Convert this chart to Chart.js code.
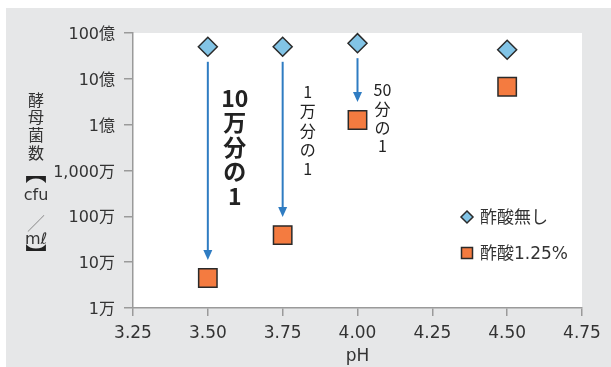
<!DOCTYPE html>
<html>
<head>
<meta charset="utf-8">
<script src="https://cdn.jsdelivr.net/npm/chart.js@4/dist/chart.umd.min.js"></script>
<style>
  html, body { margin: 0; padding: 0; background: #fff; }
  #wrap { width: 611px; height: 367px; }
</style>
</head>
<body>
<div id="wrap"><canvas id="chart" width="611" height="367"></canvas></div>
<script>
// data
const phValues = [3.5, 3.75, 4.0, 4.5];
const noAcid = [5.0e9, 5.0e9, 6.0e9, 4.3e9];      // 酢酸無し
const acid125 = [4.5e4, 3.9e5, 1.26e8, 6.7e8];     // 酢酸1.25%
const seriesNames = ['酢酸無し', '酢酸1.25%'];

const yTickValues = [1e4, 1e5, 1e6, 1e7, 1e8, 1e9, 1e10];
const yTickLabels = ['1万', '10万', '100万', '1,000万', '1億', '10億', '100億'];
const xTickValues = [3.25, 3.5, 3.75, 4.0, 4.25, 4.5, 4.75];
const xTickLabels = ['3.25', '3.50', '3.75', '4.00', '4.25', '4.50', '4.75'];

// arrows go from the 酢酸無し point down to the 酢酸1.25% point at these indexes
const arrowIndex = [0, 1, 2];
const ratioLabels = [
  ['10', '万', '分', 'の', '1'],
  ['1', '万', '分', 'の', '1'],
  ['50', '分', 'の', '1']
];
const yTitleParts = ['酵', '母', '菌', '数', '︻', 'cfu', '／', 'mℓ', '︼'];

const BLUE = '#82c4e6';
const ORANGE = '#f47b40';
const EDGE = '#2a2a2a';
const ARROW = '#2f7cc2';
const TEXT = '#333333';
const AXIS = '#9a9a9a';
const jpFont = '"DejaVu Sans", "Noto Sans CJK JP", sans-serif';

const bgPlugin = {
  id: 'bg',
  beforeDraw(chart) {
    const ctx = chart.ctx;
    const a = chart.chartArea;
    ctx.save();
    ctx.fillStyle = '#ffffff';
    ctx.fillRect(0, 0, chart.width, chart.height);
    ctx.fillStyle = '#e6e7e8';
    ctx.fillRect(6, 8, chart.width - 6, chart.height - 8);
    ctx.fillStyle = '#ffffff';
    ctx.fillRect(a.left, a.top, a.right - a.left, a.bottom - a.top);
    ctx.restore();
  }
};

// label style per arrow: x offset from point, first line offset below the diamond, line step, font
const labelStyle = [
  { dx: 27, dy: 51, step: 24.6, font: 'bold 23px "Noto Sans CJK JP", sans-serif' },
  { dx: 25, dy: 45, step: 19.4, font: '16px "Noto Sans CJK JP", sans-serif' },
  { dx: 25, dy: 47, step: 18.7, font: '16px "Noto Sans CJK JP", sans-serif' }
];

const annotationPlugin = {
  id: 'arrows',
  afterDatasetsDraw(chart) {
    const ctx = chart.ctx;
    const xs = chart.scales.x, ys = chart.scales.y;
    ctx.save();
    arrowIndex.forEach((i, k) => {
      const x = xs.getPixelForValue(phValues[i]);
      const y0 = ys.getPixelForValue(noAcid[i]) + 15;
      const y1 = ys.getPixelForValue(acid125[i]) - 18;
      ctx.strokeStyle = ARROW;
      ctx.fillStyle = ARROW;
      ctx.lineWidth = 2;
      ctx.beginPath();
      ctx.moveTo(x, y0);
      ctx.lineTo(x, y1 - 9);
      ctx.stroke();
      ctx.beginPath();
      ctx.moveTo(x - 4.5, y1 - 10);
      ctx.lineTo(x + 4.5, y1 - 10);
      ctx.lineTo(x, y1);
      ctx.closePath();
      ctx.fill();

      const st = labelStyle[k];
      const top = ys.getPixelForValue(noAcid[i]) + st.dy;
      ctx.fillStyle = '#222';
      ctx.font = st.font;
      ctx.textAlign = 'center';
      ctx.textBaseline = 'middle';
      ratioLabels[k].forEach((s, j) => {
        ctx.fillText(s, x + st.dx, top + j * st.step);
      });
    });
    ctx.restore();
  }
};

const legendPlugin = {
  id: 'innerLegend',
  afterDraw(chart) {
    const ctx = chart.ctx;
    const lx = 467, ly = [217, 253];
    ctx.save();
    ctx.lineWidth = 1.5;
    ctx.strokeStyle = EDGE;
    // diamond
    ctx.fillStyle = BLUE;
    ctx.beginPath();
    ctx.moveTo(lx, ly[0] - 6);
    ctx.lineTo(lx + 6, ly[0]);
    ctx.lineTo(lx, ly[0] + 6);
    ctx.lineTo(lx - 6, ly[0]);
    ctx.closePath();
    ctx.fill();
    ctx.stroke();
    // square
    ctx.fillStyle = ORANGE;
    ctx.fillRect(lx - 5.5, ly[1] - 5.5, 11, 11);
    ctx.strokeRect(lx - 5.5, ly[1] - 5.5, 11, 11);
    ctx.fillStyle = TEXT;
    ctx.font = '17px ' + jpFont;
    ctx.textAlign = 'left';
    ctx.textBaseline = 'middle';
    seriesNames.forEach((n, i) => ctx.fillText(n, 480, ly[i] + 2));
    ctx.restore();
  }
};

// vertical (tategaki) y title
const yTitlePlugin = {
  id: 'yTitle',
  afterDraw(chart) {
    const ctx = chart.ctx;
    const cy = [100, 117, 135, 153, 172, 196, 223, 240, 254];
    ctx.save();
    ctx.fillStyle = TEXT;
    ctx.textAlign = 'center';
    ctx.textBaseline = 'middle';
    yTitleParts.forEach((s, i) => {
      if (s === '︻' || s === '︼') {
        ctx.font = 'bold 21px "Noto Sans CJK JP", sans-serif';
        ctx.fillStyle = '#222';
      } else if (s === '／') {
        ctx.font = '300 18px "Noto Sans CJK JP", sans-serif';
        ctx.fillStyle = '#8a8a8a';
      } else if (s === 'cfu' || s === 'mℓ') {
        ctx.font = '16px "DejaVu Sans", sans-serif';
        ctx.fillStyle = TEXT;
      } else {
        ctx.font = '16px "Noto Sans CJK JP", sans-serif';
        ctx.fillStyle = TEXT;
      }
      ctx.fillText(s, 36, cy[i]);
    });
    ctx.restore();
  }
};

new Chart(document.getElementById('chart'), {
  type: 'scatter',
  data: {
    datasets: [
      {
        label: seriesNames[0],
        data: phValues.map((p, i) => ({ x: p, y: noAcid[i] })),
        pointStyle: 'rectRot',
        pointRadius: 9.5,
        backgroundColor: BLUE,
        borderColor: EDGE,
        borderWidth: 1.5
      },
      {
        label: seriesNames[1],
        data: phValues.map((p, i) => ({ x: p, y: acid125[i] })),
        pointStyle: 'rect',
        pointRadius: 13,
        backgroundColor: ORANGE,
        borderColor: EDGE,
        borderWidth: 1.5
      }
    ]
  },
  options: {
    responsive: false,
    animation: false,
    clip: false,
    layout: { padding: { left: 0, top: 33, right: 29, bottom: 0 } },
    plugins: {
      legend: { display: false },
      tooltip: { enabled: false }
    },
    scales: {
      x: {
        type: 'linear',
        min: 3.25,
        max: 4.75,
        afterBuildTicks: s => { s.ticks = xTickValues.map(v => ({ value: v })); },
        afterFit: s => { s.height = 59; },
        ticks: {
          color: TEXT,
          font: { family: jpFont, size: 17 },
          padding: 7,
          maxRotation: 0,
          autoSkip: false,
          callback: (v, i) => xTickLabels[i]
        },
        grid: { drawOnChartArea: false, drawTicks: true, tickLength: 8, color: AXIS, lineWidth: 1.5 },
        border: { display: true, color: AXIS, width: 1.5 },
        title: {
          display: true,
          text: 'pH',
          color: TEXT,
          font: { family: jpFont, size: 17 },
          padding: { top: 0, bottom: 0 }
        }
      },
      y: {
        type: 'logarithmic',
        min: 1e4,
        max: 1e10,
        afterBuildTicks: s => { s.ticks = yTickValues.map(v => ({ value: v })); },
        afterFit: s => { s.width = 133; },
        ticks: {
          color: TEXT,
          font: { family: jpFont, size: 16 },
          padding: 9,
          labelOffset: 2,
          autoSkip: false,
          callback: (v, i) => yTickLabels[i]
        },
        grid: { drawOnChartArea: false, drawTicks: true, tickLength: 9, color: AXIS, lineWidth: 1.5 },
        border: { display: true, color: AXIS, width: 1.5 }
      }
    }
  },
  plugins: [bgPlugin, annotationPlugin, legendPlugin, yTitlePlugin]
});
</script>
</body>
</html>
